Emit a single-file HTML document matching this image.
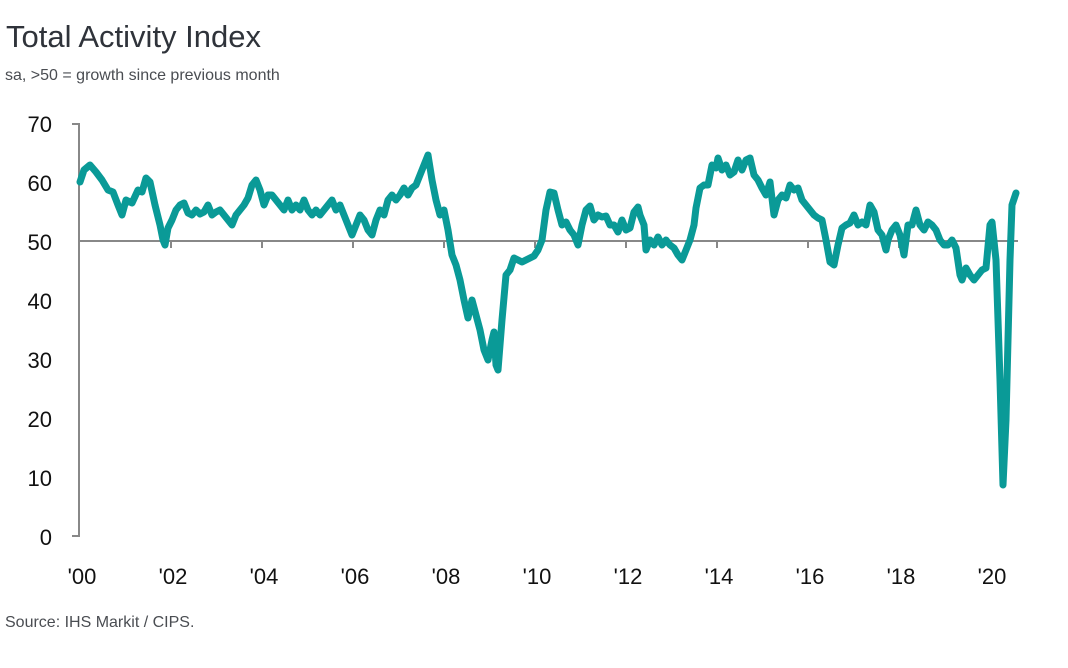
<!DOCTYPE html>
<html><head><meta charset="utf-8"><style>
body{margin:0;background:#fff;width:1068px;height:663px;overflow:hidden;font-family:"Liberation Sans",sans-serif}
</style></head><body>
<svg width="1068" height="663" xmlns="http://www.w3.org/2000/svg">
<text x="6" y="47" font-size="31" fill="#2f333a" font-family="Liberation Sans,sans-serif">Total Activity Index</text>
<text x="5" y="80" font-size="16" fill="#4a4d52" font-family="Liberation Sans,sans-serif">sa, &gt;50 = growth since previous month</text>
<text x="5" y="627" font-size="16" fill="#4a4d52" font-family="Liberation Sans,sans-serif">Source: IHS Markit / CIPS.</text>
<g font-size="22" fill="#111" text-anchor="end" font-family="Liberation Sans,sans-serif">
<text x="52" y="132">70</text><text x="52" y="191">60</text><text x="52" y="250">50</text><text x="52" y="309">40</text><text x="52" y="368">30</text><text x="52" y="427">20</text><text x="52" y="486">10</text><text x="52" y="545">0</text>
</g>
<g font-size="22" fill="#111" text-anchor="middle" font-family="Liberation Sans,sans-serif">
<text x="82" y="584">'00</text><text x="173" y="584">'02</text><text x="264" y="584">'04</text><text x="355" y="584">'06</text><text x="446" y="584">'08</text><text x="537" y="584">'10</text><text x="628" y="584">'12</text><text x="719" y="584">'14</text><text x="810" y="584">'16</text><text x="901" y="584">'18</text><text x="992" y="584">'20</text>
</g>
<path d="M72 124H79V536H72" fill="none" stroke="#888" stroke-width="2"/>
<line x1="79" y1="241" x2="1018" y2="241" stroke="#888" stroke-width="2"/>
<g stroke="#888" stroke-width="2">
<line x1="171" y1="241" x2="171" y2="248"/><line x1="262" y1="241" x2="262" y2="248"/><line x1="353" y1="241" x2="353" y2="248"/><line x1="444" y1="241" x2="444" y2="248"/><line x1="535" y1="241" x2="535" y2="248"/><line x1="626" y1="241" x2="626" y2="248"/><line x1="717" y1="241" x2="717" y2="248"/><line x1="808" y1="241" x2="808" y2="248"/><line x1="899" y1="241" x2="899" y2="248"/><line x1="990" y1="241" x2="990" y2="248"/>
</g>
<polyline fill="none" stroke="#0a9a97" stroke-width="7" stroke-linejoin="round" stroke-linecap="round" points="80,182 84,170 90,165 96,172 102,180 108,190 113,192 118,205 122,215 126,200 132,203 138,190 142,192 146,178 150,182 155,205 160,225 163,240 165,245 168,228 172,220 176,210 180,205 184,203 188,213 192,215 196,210 200,214 204,212 208,205 212,215 216,212 220,210 224,215 228,220 232,225 236,215 240,210 244,205 248,198 252,185 256,180 260,190 264,205 268,195 272,195 276,200 280,205 284,210 288,200 292,210 296,205 300,210 304,200 308,210 312,215 316,210 320,215 324,210 328,205 332,200 336,210 340,205 344,215 348,225 352,235 356,225 360,215 364,220 368,230 372,235 376,220 380,210 384,215 388,200 392,195 396,200 400,195 404,188 408,195 412,188 416,185 420,175 424,165 428,155 432,180 436,200 440,215 444,210 448,230 452,255 456,265 460,280 464,300 468,318 472,300 476,315 480,330 484,350 488,360 492,340 494,332 496,365 498,370 502,320 506,275 510,270 514,258 518,260 522,262 526,260 530,258 534,256 538,250 542,240 546,210 550,192 554,193 558,210 562,225 566,222 570,230 574,235 578,245 582,225 586,210 590,206 594,220 598,215 602,217 606,216 610,225 614,225 618,232 622,220 626,230 630,228 634,212 638,207 640,215 644,225 646,250 650,240 654,245 658,237 662,245 666,240 670,245 674,248 678,255 682,260 686,250 690,240 694,225 696,208 700,188 704,185 708,185 712,165 716,168 718,158 722,170 726,165 730,175 734,172 738,160 742,170 746,160 750,158 754,175 758,180 762,188 766,195 770,182 774,215 778,200 782,195 786,198 790,185 794,190 798,188 802,200 806,205 810,210 814,215 818,218 822,220 826,240 830,262 834,265 838,245 842,228 846,225 850,223 854,215 858,225 862,222 866,225 870,205 874,212 878,230 882,235 886,250 888,240 892,230 896,225 900,235 904,255 908,225 912,225 916,210 920,225 924,230 928,222 932,225 936,230 940,240 944,245 948,245 952,240 956,248 960,275 962,280 966,268 970,275 974,280 978,275 982,270 986,268 990,225 992,222 996,260 1000,380 1003,485 1006,420 1010,260 1012,205 1016,193"/>
</svg>
</body></html>
